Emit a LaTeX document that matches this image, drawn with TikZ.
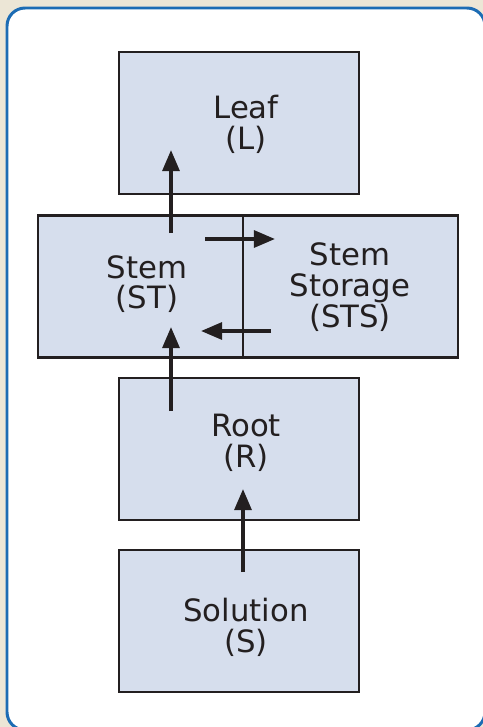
\documentclass[tikz,border=0pt]{standalone}
\usepackage{fontspec}
\setmainfont{DejaVu Sans}
\usetikzlibrary{arrows.meta}
\definecolor{paper}{RGB}{236,230,214}
\definecolor{frameblue}{RGB}{28,108,180}
\definecolor{boxfill}{RGB}{214,222,237}
\definecolor{ink}{RGB}{35,31,32}
\tikzset{
  pool/.style={draw=ink,line width=1.5pt,fill=boxfill,minimum width=4.8cm,minimum height=2.84cm,inner sep=0pt},
  lbl/.style={text=ink,align=center,inner sep=0pt,font=\fontsize{17.5}{17.5}\selectfont},
  flow/.style={draw=ink,line width=2pt,-{Triangle[length=12pt,width=9.6pt]}}
}
\begin{document}
\begin{tikzpicture}[x=0.02cm,y=-0.02cm]
\useasboundingbox(0,0)rectangle(483,727);
\clip(0,0)rectangle(483,727);
\fill[paper](0,0)rectangle(483,727);
\draw[frameblue,line width=1.7pt,fill=white,rounded corners=0.36cm](7,8)rectangle(485,730);
% compartments
\node[pool](leaf)at(239,123){};
\node[pool,minimum width=4.1cm](stem)at(140.5,286.5){};
\node[pool,minimum width=4.3cm](sts)at(350.5,286.5){};
\node[pool](root)at(239,449){};
\node[pool](sol)at(239,621){};
\node[lbl](leaf-t)at(246,124){Leaf\\(L)};
\node[lbl](stem-t)at(147,284){Stem\\(ST)};
\node[lbl](sts-t)at(350,287){Stem\\Storage\\(STS)};
\node[lbl](root-t)at(246,443){Root\\(R)};
\node[lbl](sol-t)at(246,627){Solution\\(S)};
% flows
\coordinate(l0)at(171,233);\coordinate(l1)at(171,150);
\coordinate(s0)at(205,239);\coordinate(s1)at(275,239);
\coordinate(b0)at(271,331);\coordinate(b1)at(201,331);
\coordinate(r0)at(171,411);\coordinate(r1)at(171,327);
\coordinate(n0)at(243,572);\coordinate(n1)at(243,489);
\draw[flow](l0)--(l1);
\draw[flow](s0)--(s1);
\draw[flow](b0)--(b1);
\draw[flow](r0)--(r1);
\draw[flow](n0)--(n1);
\end{tikzpicture}
\end{document}
